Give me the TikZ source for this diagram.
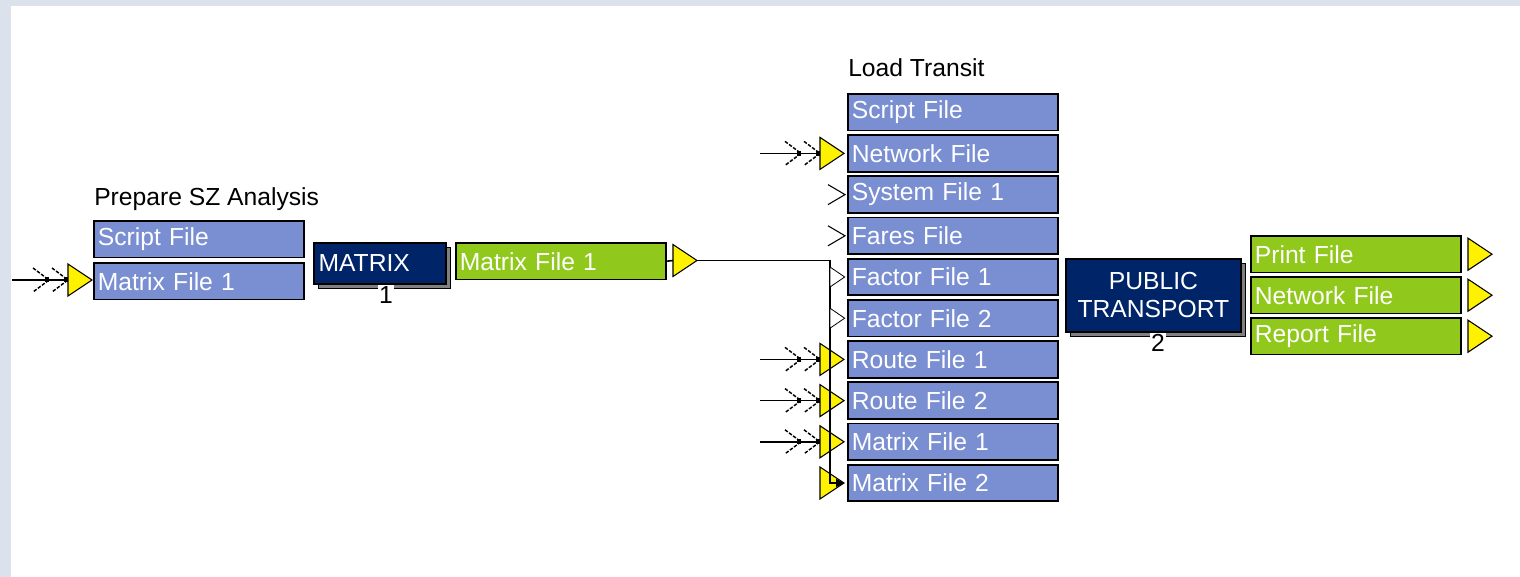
\documentclass[tikz,border=0pt]{standalone}
\usepackage{fontspec}
\setmainfont{Liberation Sans}
\usetikzlibrary{shapes.geometric,shadows,arrows.meta}

\definecolor{filebl}{RGB}{122,142,210}
\definecolor{filegr}{RGB}{145,200,28}
\definecolor{prognv}{RGB}{0,36,104}
\definecolor{frame}{RGB}{220,226,236}
\definecolor{shade}{RGB}{128,128,128}

% two dashed chevrons in front of an input port
\newcommand{\feathers}[1]{%
  \draw[feather] (#1) ++(-16,-12) -- ++(16,12) -- ++(-16,12);
  \draw[feather] (#1) ++(-35,-12) -- ++(16,12) -- ++(-16,12);
  \fill (#1) ++(-4,-2.5) rectangle ++(4,5);
  \fill (#1) ++(-23,-2.5) rectangle ++(4,5);
}

\begin{document}
\begin{tikzpicture}[x=0.75pt,y=0.75pt,yscale=-1,xscale=1,
  every node/.style={font=\fontsize{18.5}{21}\selectfont},
  file/.style={draw, line width=1.3pt, anchor=north west, text=white, text width=151.5pt, align=left, inner xsep=3pt, inner ysep=0pt, minimum height=27.5pt},
  infile/.style={file, fill=filebl},
  outfile/.style={file, fill=filegr},
  prog/.style={draw, line width=1.3pt, fill=prognv, text=white, anchor=north west, inner sep=0pt, copy shadow={shadow xshift=3.5pt, shadow yshift=-3.5pt, fill=shade, draw=black, line width=0.8pt}},
  port/.style={isosceles triangle, isosceles triangle stretches, draw, line width=0.8pt, fill=yellow, minimum width=24pt, minimum height=18pt, inner sep=0pt, outer sep=0pt, anchor=west},
  hollow/.style={isosceles triangle, isosceles triangle stretches, draw, line width=0.6pt, fill=white, minimum width=15pt, minimum height=11pt, inner sep=0pt, outer sep=0pt, anchor=west},
  num/.style={fill=white, text=black, inner sep=1pt},
  wire/.style={line width=1.2pt},
  feather/.style={line width=1.1pt, dash pattern=on 2.6pt off 1.2pt, black}
]
\useasboundingbox (0,0) rectangle (1520,577);
\fill[frame] (0,0) rectangle (1520,577);
\fill[white] (11,6) rectangle (1520,577);

% Prepare SZ Analysis
\node[anchor=base west, inner sep=0pt] (tsz) at (94,206) {Prepare SZ Analysis};
\node[infile] (sz1) at (93,220) {Script File};
\node[infile] (sz2) at (93,262) {Matrix File 1};
\node[port] (pin) at (68,280) {};
\coordinate (ain) at (12,280);
\draw[wire] (ain) -- (pin.west);
\feathers{pin.west}

\node[prog, minimum width=99pt, minimum height=30.75pt, text width=92pt, inner xsep=3.5pt, align=left] (mx) at (313,242) {MATRIX};
\node[num] (n1) at (386,295) {1};

\node[outfile] (mf) at (455,242) {Matrix File 1};
\node[port] (mo) at (673,260.5) {};
\draw[wire] (mf.east) -- (mo.west);

% Load Transit
\node[anchor=base west, inner sep=0pt] (tlt) at (848,77) {Load Transit};
\foreach \lbl [count=\i] in {Script File,Network File,System File 1,Fares File,Factor File 1,Factor File 2,Route File 1,Route File 2,Matrix File 1,Matrix File 2}
  \node[infile] (lt\i) at (847,{93+41.2*(\i-1)}) {\lbl};

\foreach \i in {2,7,8,9,10}
  \node[port] (lp\i) at (820,0 |- lt\i.west) {};

\coordinate (bus) at (830,0 |- lt10.west);
\draw[wire, -{Triangle[length=6pt,width=6pt]}] (mo.east) -| (bus) -- (lp10.east);

\foreach \i in {5,6}
  \node[hollow] (lf\i) at (830,0 |- lt\i.west) {};
\foreach \i in {3,4}
  \draw[line width=0.8pt] (lt\i.west) ++(-19,-10) -- ++(17,10) -- ++(-17,10);

\foreach \i in {2,7,8,9} {
  \coordinate (in\i) at (760,0 |- lt\i.west);
  \draw[wire] (in\i) -- (lp\i.west);
  \feathers{lp\i.west}
}

% Public Transport
\node[prog, minimum width=131.25pt, minimum height=54.75pt, align=center] (pt) at (1065,258) {PUBLIC\\TRANSPORT};
\node[num] (n2) at (1158,343) {2};

\foreach \lbl [count=\i] in {Print File,Network File,Report File} {
  \node[outfile] (po\i) at (1250,{235+41*(\i-1)}) {\lbl};
  \node[port] (pp\i) at (1468,0 |- po\i.west) {};
}
\end{tikzpicture}
\end{document}
